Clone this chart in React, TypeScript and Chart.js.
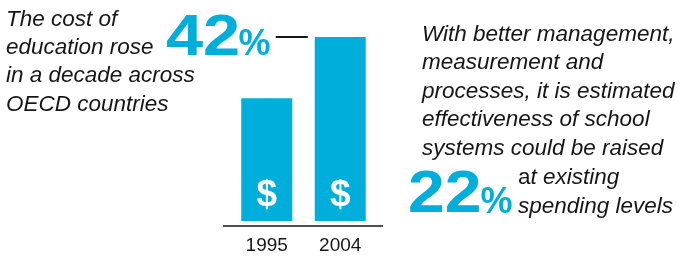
import React, { useEffect, useRef } from "react";
import { Chart, registerables } from "chart.js";

Chart.register(...registerables);

const categories = ["1995", "2004"];
const costIndex = [100, 150];
const yMax = 150;

const CYAN = "#00AEDB";
const INK = "#161616";

const leftLines = ["The cost of", "education rose", "in a decade across", "OECD countries"];
const rightLines = [
  "With better management,",
  "measurement and",
  "processes, it is estimated",
  "effectiveness of school",
  "systems could be raised",
];
const bigLeft = "42";
const bigRight = "22";

const decorPlugin = {
  id: "decor",
  afterDatasetsDraw(chart: any) {
    const ctx = chart.ctx as CanvasRenderingContext2D;
    const meta = chart.getDatasetMeta(0);
    const { left, right, bottom } = chart.chartArea;
    ctx.save();
    ctx.fillStyle = "#ffffff";
    ctx.font = 'bold 37px "Liberation Sans", Arial, sans-serif';
    ctx.textAlign = "center";
    ctx.textBaseline = "alphabetic";
    meta.data.forEach((bar: any) => {
      ctx.fillText("$", bar.x, bar.base - 15);
    });
    ctx.strokeStyle = INK;
    ctx.lineWidth = 1.5;
    ctx.beginPath();
    ctx.moveTo(left - 7, bottom + 5);
    ctx.lineTo(right + 6, bottom + 5);
    ctx.stroke();
    const b1 = meta.data[0];
    const b2 = meta.data[1];
    ctx.lineWidth = 2;
    ctx.beginPath();
    ctx.moveTo(b1.x + 9, b2.y);
    ctx.lineTo(b2.x - b2.width / 2 - 7, b2.y);
    ctx.stroke();
    ctx.restore();
  },
};

export default function App() {
  const ref = useRef<HTMLCanvasElement>(null);
  useEffect(() => {
    if (!ref.current) return;
    const chart = new Chart(ref.current, {
      type: "bar",
      data: {
        labels: categories,
        datasets: [
          {
            data: costIndex,
            backgroundColor: CYAN,
            borderWidth: 0,
            barPercentage: 0.694,
            categoryPercentage: 1,
          },
        ],
      },
      options: {
        animation: false,
        responsive: false,
        devicePixelRatio: 1,
        layout: { padding: { left: 230, right: 306, top: 37, bottom: 0 } },
        plugins: { legend: { display: false }, tooltip: { enabled: false } },
        scales: {
          x: {
            grid: { display: false, drawTicks: false },
            border: { display: false },
            afterFit: (scale: any) => {
              scale.height = 35;
            },
            ticks: {
              color: INK,
              padding: 13,
              font: { family: '"Liberation Sans", Arial, sans-serif', size: 19 },
            },
          },
          y: { display: false, min: 0, max: yMax },
        },
      },
      plugins: [decorPlugin],
    });
    return () => chart.destroy();
  }, []);

  const para: React.CSSProperties = {
    position: "absolute",
    fontFamily: '"Liberation Sans", Arial, sans-serif',
    fontStyle: "italic",
    fontSize: 22.5,
    color: INK,
    whiteSpace: "nowrap",
  };
  const big: React.CSSProperties = {
    position: "absolute",
    fontFamily: '"Liberation Sans", Arial, sans-serif',
    fontWeight: "bold",
    color: CYAN,
    whiteSpace: "nowrap",
    transformOrigin: "left top",
  };

  return (
    <div style={{ position: "fixed", left: 0, top: 0, width: 683, height: 256, background: "#fff", overflow: "hidden" }}>
      <canvas ref={ref} width={683} height={256} style={{ position: "absolute", left: 0, top: 0, width: 683, height: 256 }} />
      <div style={{ ...para, left: 6, top: 4.75, lineHeight: "28.3px" }}>
        {leftLines.map((l, i) => (
          <div key={i}>{l}</div>
        ))}
      </div>
      <div style={{ ...para, left: 422, top: 19.6, lineHeight: "28.6px" }}>
        {rightLines.map((l, i) => (
          <div key={i}>{l}</div>
        ))}
      </div>
      <div style={{ ...para, left: 518, top: 163, lineHeight: "28.6px" }}>
        <div>
          <span style={{ fontStyle: "normal" }}>a</span>t existing
        </div>
        <div>spending levels</div>
      </div>
      <div style={{ ...big, left: 166, top: 5.9, fontSize: 58, lineHeight: "58px", transform: "scaleX(1.15)" }}>
        {bigLeft}
      </div>
      <div style={{ ...big, left: 238.5, top: 24.5, fontSize: 36, lineHeight: "36px" }}>%</div>
      <div style={{ ...big, left: 408, top: 162.2, fontSize: 60, lineHeight: "60px", transform: "scaleX(1.1)" }}>
        {bigRight}
      </div>
      <div style={{ ...big, left: 480.5, top: 182.5, fontSize: 36, lineHeight: "36px" }}>%</div>
    </div>
  );
}
